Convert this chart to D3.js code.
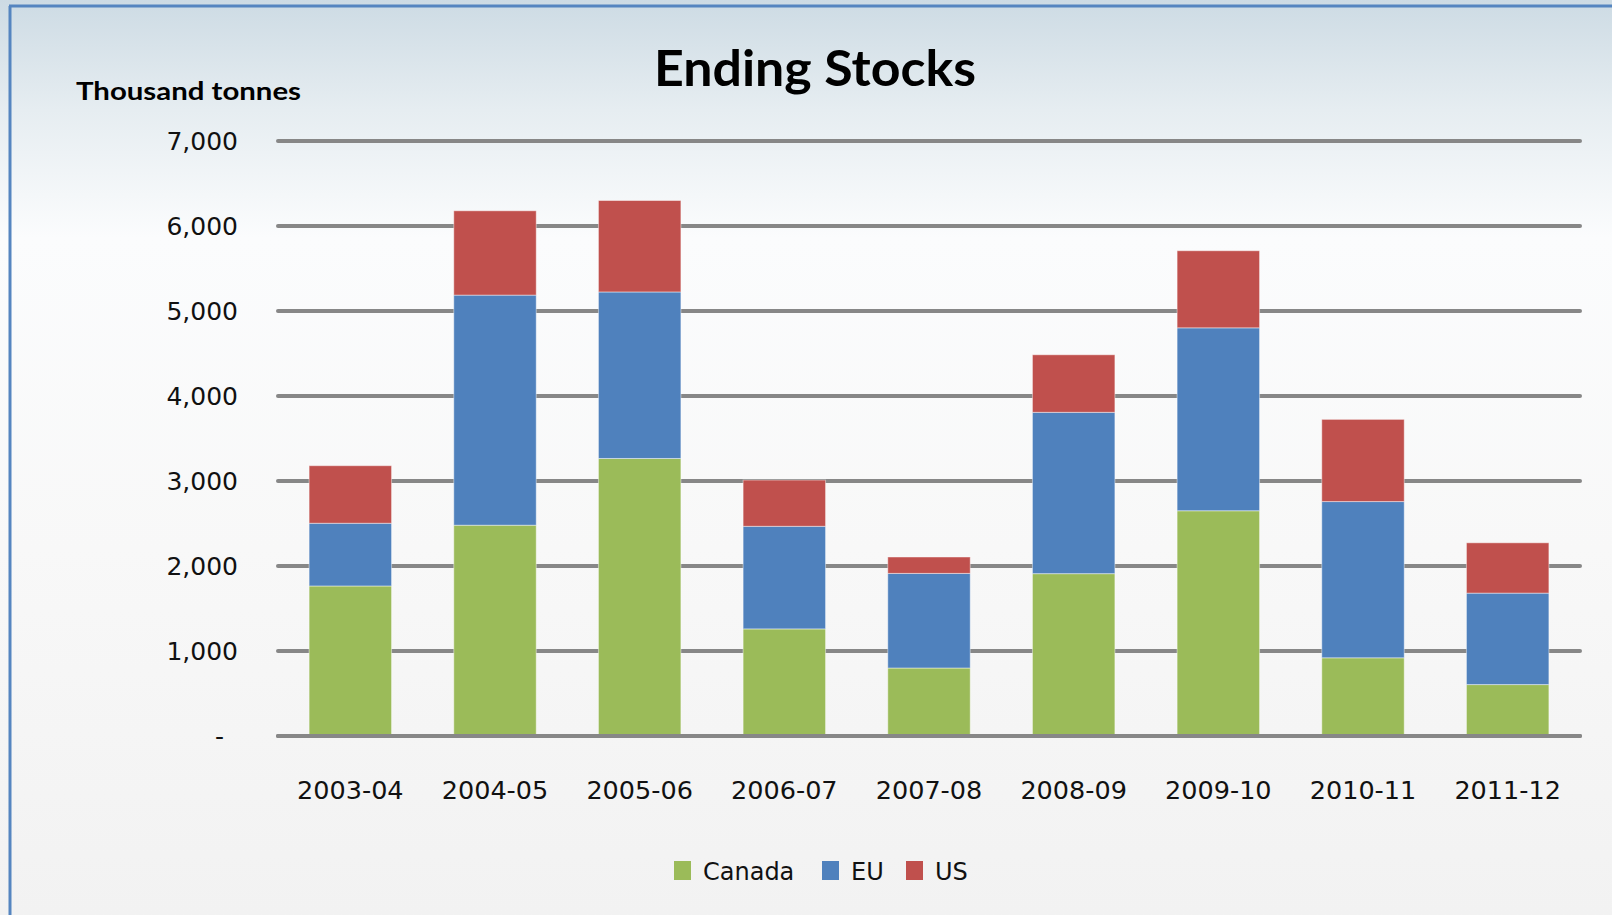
<!DOCTYPE html>
<html>
<head>
<meta charset="utf-8">
<script src="https://cdn.jsdelivr.net/npm/d3@7"></script>
<style>
  html, body { margin: 0; padding: 0; background: #fff; }
  svg { display: block; }
</style>
</head>
<body>
<div id="chart-area"></div>
<script>
// data (thousand tonnes)
const seasons = ["2003-04", "2004-05", "2005-06", "2006-07", "2007-08", "2008-09", "2009-10", "2010-11", "2011-12"]
const canada = [1765, 2480, 3265, 1260, 800, 1910, 2650, 920, 605]
const eu     = [738, 2707, 1959, 1207, 1113, 1898, 2152, 1838, 1076]
const us     = [677, 992, 1076, 544, 193, 677, 907, 967, 592]
const seriesNames = ["Canada", "EU", "US"]
const yTicks = [0, 1000, 2000, 3000, 4000, 5000, 6000, 7000]

const WIDTH = 1612, HEIGHT = 915
const MARGIN = {left: 278, right: 32, top: 141, bottom: 179}
const colors = {Canada: "#9bbb59", EU: "#4f81bd", US: "#c0504d"}

const svg = d3.select("#chart-area").append("svg")
    .attr("width", WIDTH)
    .attr("height", HEIGHT)

// ---------------------------//
//         BACKGROUND         //
// ---------------------------//
const defs = svg.append("defs")
const grad = defs.append("linearGradient")
    .attr("id", "bg").attr("x1", 0).attr("y1", 0).attr("x2", 0).attr("y2", 1)
grad.append("stop").attr("offset", "0%").attr("stop-color", "#cddbe4")
grad.append("stop").attr("offset", "12%").attr("stop-color", "#e6edf1")
grad.append("stop").attr("offset", "26%").attr("stop-color", "#fbfcfd")
grad.append("stop").attr("offset", "60%").attr("stop-color", "#f8f8f8")
grad.append("stop").attr("offset", "100%").attr("stop-color", "#f2f2f2")

svg.append("rect").attr("width", WIDTH).attr("height", HEIGHT).attr("fill", "url(#bg)")

// blue frame on the left and top
svg.append("line").attr("x1", 10).attr("x2", 10).attr("y1", 6).attr("y2", HEIGHT)
    .attr("stroke", "#5585c0").attr("stroke-width", 3)
svg.append("line").attr("x1", 9).attr("x2", WIDTH).attr("y1", 6).attr("y2", 6)
    .attr("stroke", "#5585c0").attr("stroke-width", 3)

// ---------------------------//
//       AXIS AND SCALE       //
// ---------------------------//
const x = d3.scaleBand()
    .domain(seasons)
    .range([MARGIN.left, WIDTH - MARGIN.right])
    .paddingInner(0.43)
    .paddingOuter(0.215)

const y = d3.scaleLinear()
    .domain([0, 7000])
    .range([HEIGHT - MARGIN.bottom, MARGIN.top])

// gridlines
svg.append("g").selectAll("line")
    .data(yTicks)
    .join("line")
    .attr("x1", MARGIN.left).attr("x2", WIDTH - MARGIN.right)
    .attr("y1", d => y(d)).attr("y2", d => y(d))
    .attr("stroke", "#878787")
    .attr("stroke-width", 4)
    .attr("stroke-linecap", "round")

// y labels
const fmt = d3.format(",")
svg.append("g").selectAll("text")
    .data(yTicks)
    .join("text")
    .attr("x", d => d === 0 ? 224 : 238)
    .attr("y", d => y(d))
    .attr("dy", "0.36em")
    .attr("text-anchor", "end")
    .style("font-family", "DejaVu Sans, sans-serif")
    .style("font-size", "25px")
    .attr("fill", "#111")
    .text(d => d === 0 ? "-" : fmt(d))

// ---------------------------//
//        STACKED BARS        //
// ---------------------------//
const rows = seasons.map((s, i) => ({season: s, Canada: canada[i], EU: eu[i], US: us[i]}))
const stack = d3.stack().keys(seriesNames)(rows)

svg.append("g").selectAll("g")
    .data(stack)
    .join("g")
    .attr("fill", d => colors[d.key])
    .selectAll("rect")
    .data(d => d)
    .join("rect")
    .attr("x", d => x(d.data.season))
    .attr("width", x.bandwidth())
    .attr("y", d => y(d[1]))
    .attr("height", d => y(d[0]) - y(d[1]))
    .attr("stroke", "rgba(255,255,255,0.45)")
    .attr("stroke-width", 1)

// redraw the baseline over bar bottoms
svg.append("line")
    .attr("x1", MARGIN.left).attr("x2", WIDTH - MARGIN.right)
    .attr("y1", y(0)).attr("y2", y(0))
    .attr("stroke", "#878787").attr("stroke-width", 4).attr("stroke-linecap", "round")

// x labels
svg.append("g").selectAll("text")
    .data(seasons)
    .join("text")
    .attr("x", d => x(d) + x.bandwidth() / 2)
    .attr("y", 799)
    .attr("text-anchor", "middle")
    .style("font-family", "DejaVu Sans, sans-serif")
    .style("font-size", "25.5px")
    .attr("fill", "#111")
    .text(d => d)

// ---------------------------//
//           TITLES           //
// ---------------------------//
svg.append("text")
    .attr("x", 815).attr("y", 86)
    .attr("text-anchor", "middle")
    .style("font-family", "Lato, sans-serif")
    .style("font-weight", "bold")
    .style("font-size", "50px")
    .attr("textLength", 322)
    .attr("lengthAdjust", "spacingAndGlyphs")
    .attr("fill", "#000")
    .text("Ending Stocks")

svg.append("text")
    .attr("x", 76).attr("y", 100)
    .style("font-family", "Lato, sans-serif")
    .style("font-weight", "bold")
    .style("font-size", "24px")
    .attr("textLength", 225)
    .attr("lengthAdjust", "spacingAndGlyphs")
    .attr("fill", "#000")
    .text("Thousand tonnes")

// ---------------------------//
//           LEGEND           //
// ---------------------------//
const legendX = [674, 822, 906]
const legend = svg.append("g").selectAll("g")
    .data(seriesNames)
    .join("g")
    .attr("transform", (d, i) => `translate(${legendX[i]},861)`)

legend.append("rect")
    .attr("width", 17).attr("height", 19)
    .attr("fill", d => colors[d])

legend.append("text")
    .attr("x", 29).attr("y", 19)
    .style("font-family", "DejaVu Sans, sans-serif")
    .style("font-size", "24px")
    .attr("fill", "#111")
    .text(d => d)
</script>
</body>
</html>
